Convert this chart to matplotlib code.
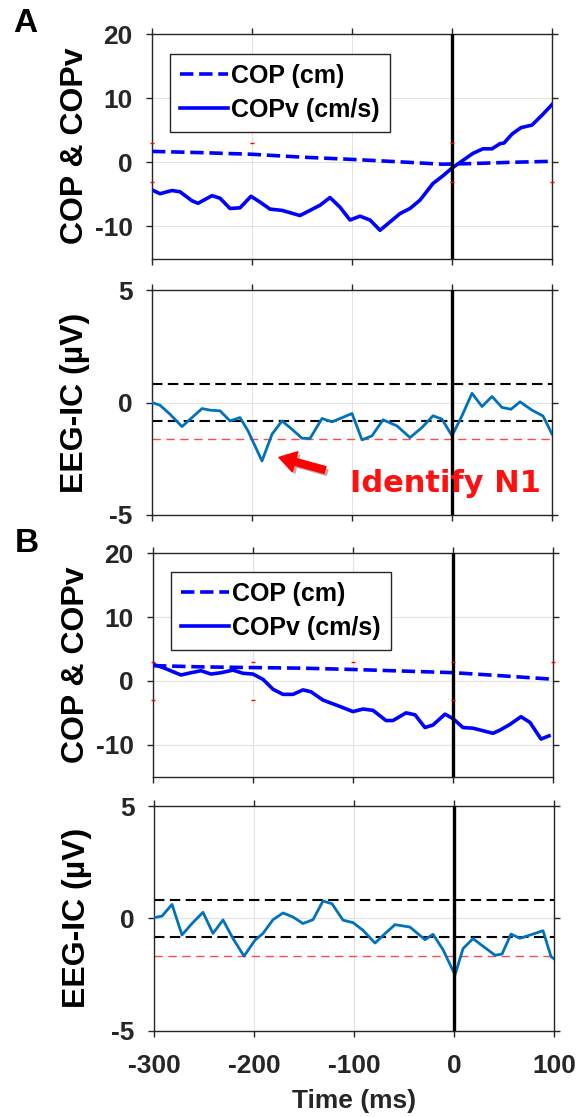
import matplotlib
matplotlib.use("Agg")
import matplotlib.pyplot as plt
import matplotlib.patheffects as pe

plt.rcParams["font.family"] = ["Liberation Sans", "DejaVu Sans"]
plt.rcParams["axes.unicode_minus"] = False

# ---- data ----
t_a_cop = [-300, -250, -200, -150, -100, -50, -10, 20, 60, 100]
a_cop = [1.7, 1.5, 1.25, 0.8, 0.45, 0.05, -0.3, -0.2, 0.0, 0.15]

t_a_copv = [-300, -292, -280, -272, -260, -254, -240, -232, -222, -212, -201, -192, -182,
            -170, -152, -132, -122, -112, -102, -92, -82, -72, -62, -52, -42, -32, -19,
            -9, 0, 11, 21, 31, 40, 48, 52, 60, 69, 80, 91, 100]
a_copv = [-4.3, -4.9, -4.4, -4.6, -6.0, -6.4, -5.2, -5.6, -7.2, -7.1, -5.3, -6.2, -7.3,
          -7.5, -8.3, -6.7, -5.5, -7.0, -9.0, -8.4, -9.0, -10.6, -9.3, -8.0, -7.2, -5.9, -3.3,
          -2.1, -0.9, 0.3, 1.4, 2.1, 2.1, 2.9, 3.0, 4.4, 5.4, 5.8, 7.5, 9.0]

t_a_eeg = [-300, -292, -282, -270, -260, -250, -242, -232, -222, -212, -204, -190, -180,
           -170, -160, -150, -142, -130, -120, -100, -90, -80, -69, -55, -42, -30, -19,
           -10, 0, 10, 20, 30, 40, 50, 59, 68, 80, 91, 100]
a_eeg = [0.0, -0.12, -0.52, -1.07, -0.67, -0.27, -0.34, -0.37, -0.82, -0.67, -1.26, -2.6,
         -1.41, -0.82, -1.19, -1.59, -1.6, -0.71, -0.86, -0.49, -1.66, -1.48, -0.77, -1.04,
         -1.56, -1.11, -0.59, -0.74, -1.48, -0.59, 0.41, -0.18, 0.27, -0.22, -0.3, 0.03,
         -0.34, -0.6, -1.4]
a_thr = [0.83, -0.8]
a_red = -1.64

t_b_cop = [-300, -250, -200, -150, -100, -50, 0, 50, 97]
b_cop = [2.4, 2.2, 2.1, 2.0, 1.8, 1.55, 1.3, 0.8, 0.3]

t_b_copv = [-300, -290, -280, -272, -262, -252, -242, -232, -220, -210, -200, -190, -180,
            -170, -160, -150, -142, -130, -113, -100, -90, -80, -67, -60, -47, -38, -28,
            -20, -8, 0, 10, 20, 30, 40, 47, 57, 68, 77, 88, 96]
b_copv = [2.6, 2.1, 1.45, 0.93, 1.29, 1.6, 1.08, 1.29, 1.7, 1.2, 1.08, 0.25, -1.3,
          -2.1, -2.1, -1.4, -1.7, -3.0, -4.0, -4.8, -4.4, -4.6, -6.2, -6.2, -5.0, -5.3, -7.3,
          -6.9, -5.2, -5.9, -7.3, -7.4, -7.8, -8.2, -7.7, -6.8, -5.6, -6.5, -9.1, -8.6]

t_b_eeg = [-300, -292, -282, -272, -262, -251, -241, -231, -221, -210, -199, -191, -181,
           -171, -161, -151, -141, -131, -122, -111, -101, -91, -79, -69, -59, -44, -29,
           -21, -11, 1, 9, 19, 29, 41, 48, 57, 66, 79, 89, 97, 100]
b_eeg = [0.03, 0.1, 0.62, -0.74, -0.23, 0.27, -0.67, -0.07, -0.9, -1.68, -0.97, -0.67,
         -0.06, 0.24, 0.06, -0.23, -0.06, 0.77, 0.65, -0.08, -0.19, -0.53, -1.1, -0.68,
         -0.28, -0.39, -0.95, -0.71, -1.39, -2.52, -1.35, -0.9, -1.24, -1.64, -1.59, -0.7,
         -0.89, -0.7, -0.55, -1.7, -1.8]
b_thr = [0.83, -0.83]
b_red = -1.67

# small red marks at +/-3 seen on the COP panels
a_marks = [(-300, 3), (-300, -3), (-200, 3), (0, 3), (0, -3), (100, -3)]
b_marks = [(-300, 3), (-300, -3), (-200, 3), (-200, -3), (-100, 3), (0, 3), (0, -3), (100, 3)]

x_ticks = [-300, -200, -100, 0, 100]
cop_ticks = [-10, 0, 10, 20]
eeg_ticks = [-5, 0, 5]

GREY = "#262626"
W, H = 583, 1117


def style(ax, ylim, yticks, show_x):
    ax.set_xlim(-300, 100)
    ax.set_ylim(*ylim)
    ax.set_xticks(x_ticks)
    ax.set_yticks(yticks)
    ax.grid(True, color="#e3e3e3", lw=0.8)
    ax.set_axisbelow(True)
    ax.tick_params(direction="out", length=4, width=1, color=GREY, top=True, right=True,
                   labelsize=19, labelcolor=GREY)
    ax.tick_params(axis="y", pad=10)
    ax.tick_params(axis="x", pad=13)
    for lab in ax.get_xticklabels() + ax.get_yticklabels():
        lab.set_fontweight("bold")
    for s in ax.spines.values():
        s.set_color(GREY)
        s.set_linewidth(1)
    if not show_x:
        ax.set_xticklabels([])
    ax.axvline(0, color="black", lw=2.4, zorder=5)
    ax.yaxis.set_label_coords(-0.155, 0.5)


def px_axes(left, top, right, bottom):
    return fig.add_axes([left / W, 1 - bottom / H, (right - left) / W, (bottom - top) / H])


def cop_panel(ax, t_cop, cop, t_copv, copv, marks, legend_y):
    ax.plot(t_cop, cop, "--", color="#0000ff", lw=2.6, label="COP (cm)", zorder=3)
    ax.plot(t_copv, copv, "-", color="#0000ff", lw=2.6, label="COPv (cm/s)", zorder=3)
    for mx, my in marks:
        ax.plot(mx, my, marker="_", color="red", ms=3, mew=1.0, zorder=6, clip_on=False)
    style(ax, (-15, 20), cop_ticks, False)
    ax.set_ylabel("COP & COPv", fontsize=23, fontweight="bold", color="black")
    leg = ax.legend(loc="upper left", bbox_to_anchor=(0.045, legend_y), borderaxespad=0,
                    prop={"weight": "bold", "size": 18}, handlelength=1.9,
                    handletextpad=0.15, fancybox=False, framealpha=1, borderpad=0.4,
                    labelspacing=0.4)
    leg.get_frame().set_edgecolor(GREY)
    leg.get_frame().set_linewidth(1)


def eeg_panel(ax, t, v, thr, red, show_x):
    for y in thr:
        ax.axhline(y, color="black", lw=1.5, dashes=(5, 2.6), zorder=2)
    ax.axhline(red, color="#ff4a4a", lw=1.0, dashes=(6, 4), zorder=2)
    ax.plot(t, v, color="#0072BD", lw=2.0, zorder=3)
    style(ax, (-5, 5), eeg_ticks, show_x)
    ax.set_ylabel("EEG-IC (\u00b5V)", fontsize=23, fontweight="bold", color="black")


fig = plt.figure(figsize=(W / 100, H / 100), dpi=100)

ax1 = px_axes(152, 34, 552, 258.5)
cop_panel(ax1, t_a_cop, a_cop, t_a_copv, a_copv, a_marks, 0.911)

ax2 = px_axes(152, 290, 552, 515)
eeg_panel(ax2, t_a_eeg, a_eeg, a_thr, a_red, False)
ax2.annotate("", xy=(-173, -2.44), xytext=(-127, -3.0),
             arrowprops=dict(facecolor="#ff0000", edgecolor="#ff0000", width=5,
                             headwidth=15, headlength=12, shrink=0,
                             path_effects=[pe.withSimplePatchShadow(offset=(2, -2),
                                                                    alpha=0.35)]))
ax2.text(-7, -4.0, "Identify N1", color="#ff1010", fontsize=22, fontweight="bold",
         family=["DejaVu Sans"], ha="center", va="baseline", zorder=6)

ax3 = px_axes(153, 553.3, 553, 776.7)
cop_panel(ax3, t_b_cop, b_cop, t_b_copv, b_copv, b_marks, 0.918)

ax4 = px_axes(154, 806, 554, 1030.7)
eeg_panel(ax4, t_b_eeg, b_eeg, b_thr, b_red, True)
ax4.set_xlabel("Time (ms)", fontsize=19, fontweight="bold", color=GREY, labelpad=8)

fig.text(25 / W, 1 - 24 / H, "A", fontsize=24, fontweight="bold", ha="center", va="center")
fig.text(27 / W, 1 - 543 / H, "B", fontsize=24, fontweight="bold", ha="center", va="center")

fig.savefig("out.png", dpi=100)
